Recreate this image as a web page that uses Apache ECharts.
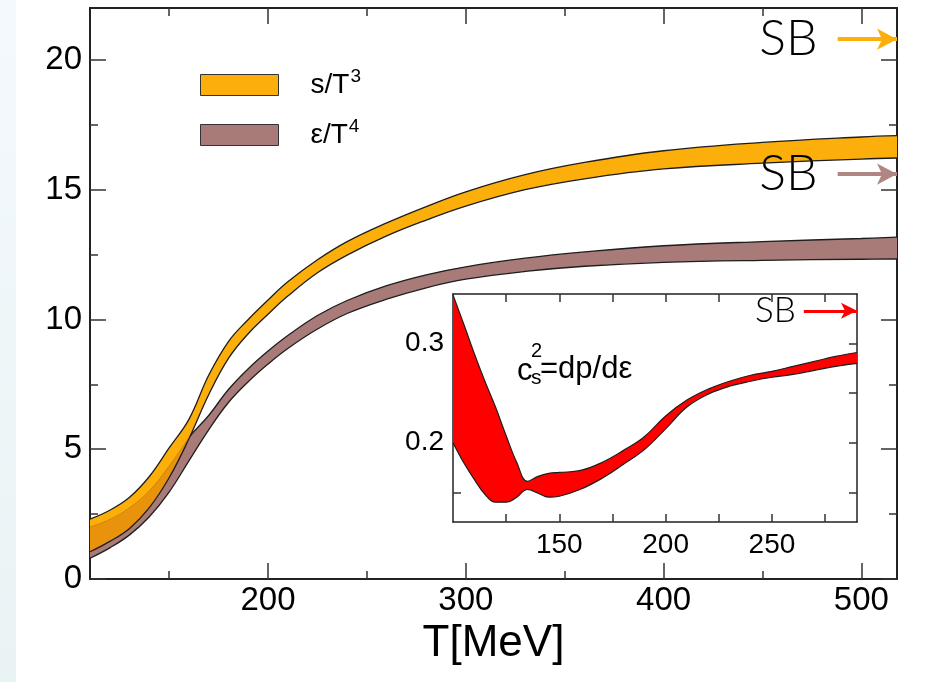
<!DOCTYPE html>
<html>
<head>
<meta charset="utf-8">
<script src="https://cdn.jsdelivr.net/npm/echarts@6/dist/echarts.min.js"></script>
<style>
  html, body { margin: 0; padding: 0; background: #fff; }
  #chart { width: 930px; height: 682px; }
</style>
</head>
<body>
<div id="chart"></div>
<script>
// main panel: s/T^3 and e/T^4 bands against T [MeV]
const temps  = [110, 120, 130, 140, 150, 160, 170, 180, 190, 200, 210, 225, 240, 260, 280, 300, 330, 360, 400, 450, 500, 518];
const sUpper = [2.31, 2.65, 3.15, 3.95, 5.05, 6.15, 7.85, 9.15, 10.0, 10.75, 11.45, 12.3, 13.0, 13.72, 14.35, 14.92, 15.58, 16.05, 16.5, 16.82, 17.03, 17.08];
const sLower = [1.05, 1.45, 1.95, 2.75, 3.9, 5.4, 7.1, 8.5, 9.45, 10.2, 10.9, 11.8, 12.48, 13.22, 13.83, 14.37, 15.0, 15.42, 15.8, 16.02, 16.18, 16.22];
const eUpper = [2.0, 2.3, 2.75, 3.4, 4.35, 5.45, 6.3, 7.3, 8.1, 8.78, 9.38, 10.15, 10.73, 11.3, 11.72, 12.03, 12.36, 12.6, 12.84, 13.0, 13.12, 13.17];
const eLower = [0.8, 1.2, 1.7, 2.4, 3.35, 4.55, 5.75, 6.8, 7.6, 8.28, 8.88, 9.63, 10.23, 10.78, 11.22, 11.55, 11.85, 12.05, 12.2, 12.28, 12.32, 12.33];

// inset: c_s^2 band
const csTemps = [100, 105, 110, 115, 120, 125, 130, 135, 140, 145, 150, 160, 170, 180, 190, 200, 210, 220, 230, 240, 250, 260, 270, 280, 290];
const csUpper = [0.349, 0.32, 0.29, 0.262, 0.236, 0.207, 0.18, 0.161, 0.166, 0.169, 0.17, 0.172, 0.18, 0.192, 0.206, 0.227, 0.243, 0.254, 0.262, 0.268, 0.272, 0.277, 0.282, 0.287, 0.291];
const csLower = [0.2, 0.18, 0.163, 0.148, 0.14, 0.14, 0.145, 0.153, 0.149, 0.145, 0.146, 0.153, 0.164, 0.178, 0.193, 0.214, 0.236, 0.249, 0.257, 0.262, 0.266, 0.269, 0.273, 0.277, 0.28];

// Stefan-Boltzmann limits
const sbEntropy = 20.8;
const sbEnergy = 15.6;
const sbSound = 0.333;

// ticks
const xMajor = [200, 300, 400, 500];
const xMinor = [150, 250, 350, 450];
const yMajor = [0, 5, 10, 15, 20];
const yMinor = [2.5, 7.5, 12.5, 17.5];
const inXTicks = [125, 150, 175, 200, 225, 250, 275];
const inXLabels = [150, 200, 250];
const inYTicks = [0.15, 0.2, 0.25, 0.3];
const inYLabels = [0.2, 0.3];

const ORANGE = '#fcaf0a', BROWN = '#a87a78', DARK_OR = '#e9920c', RED = '#ff0000';
const EDGE = '#1e1e1e';
const FONT = '"Liberation Sans", Arial, Helvetica, sans-serif';

const xRange = [110, 518], yRange = [0, 22];
const inXRange = [100, 290], inYRange = [0.12, 0.35];

// rows are [value, T] so that the stack runs along y (encode below maps them)
function rows(xs, ys) { return xs.map((x, i) => [ys[i], x]); }
function diffRows(xs, hi, lo) { return xs.map((x, i) => [hi[i] - lo[i], x]); }
const ENC = { x: 1, y: 0 };

// overlap of the two bands at low T (s band over e band)
const ovIdx = temps.map((t, i) => i).filter(i => sLower[i] < eUpper[i]);
const ovT = ovIdx.map(i => temps[i]);
const ovLow = ovIdx.map(i => sLower[i]);
const ovHigh = ovIdx.map(i => eUpper[i]);

function axis(o) {
  const a = {
    type: 'value', splitLine: { show: false },
    axisLine: { show: true, onZero: false, lineStyle: { color: '#222', width: 2 } },
    axisTick: { show: true, inside: true, length: o.tickLen, customValues: o.ticks, lineStyle: { color: '#333', width: 1.5 } },
    axisLabel: { show: false }
  };
  delete o.tickLen; delete o.ticks;
  return Object.assign(a, o);
}

const chart = echarts.init(document.getElementById('chart'), null, { renderer: 'canvas' });

const SMOOTH = 0.4;

function band(name, xs, lo, hi, color, stack, xi, z, lw) {
  return [
    { name: name + '_lo', type: 'line', stack: stack, xAxisIndex: xi, yAxisIndex: xi, data: rows(xs, lo), encode: ENC,
      symbol: 'none', smooth: SMOOTH, z: z + 1, lineStyle: { color: EDGE, width: lw } },
    { name: name, type: 'line', stack: stack, xAxisIndex: xi, yAxisIndex: xi, data: diffRows(xs, hi, lo), encode: ENC,
      symbol: 'none', smooth: SMOOTH, z: z, itemStyle: { color: color },
      lineStyle: { color: EDGE, width: lw }, areaStyle: { color: color, opacity: 1 } }
  ];
}

const arrowLabel = (size, dist) => ({ show: true, position: 'start', formatter: 'SB', fontSize: size,
  fontFamily: 'Lato, "Open Sans", sans-serif', fontWeight: 300, color: '#000', distance: dist });

const option = {
  animation: false,
  grid: [
    { left: 90, top: 8, width: 807, height: 571 },
    { left: 453, top: 294, width: 404, height: 228, show: true, backgroundColor: '#fff', borderWidth: 0 }
  ],
  legend: {
    orient: 'vertical', left: 200, top: 67, padding: 0, itemWidth: 78, itemHeight: 21, itemGap: 14, icon: 'rect',
    selectedMode: false, data: ['s/T3', 'e/T4'], z: 20,
    itemStyle: { borderColor: '#333', borderWidth: 1 },
    formatter: n => n === 's/T3' ? 's/T{sup|3}' : 'ε/T{sup|4}',
    textStyle: { fontFamily: FONT, fontSize: 28, color: '#000', padding: [0, 0, 0, 27], lineHeight: 36,
      rich: { sup: { fontSize: 19, fontFamily: FONT, verticalAlign: 'top', lineHeight: 36, padding: [0, 0, 0, 1] } } }
  },
  xAxis: [
    axis({ gridIndex: 0, min: xRange[0], max: xRange[1], position: 'bottom', ticks: xMajor, tickLen: 16,
      axisLabel: { show: true, customValues: xMajor, fontSize: 33, fontFamily: FONT, color: '#000', margin: 5 },
      name: 'T[MeV]', nameLocation: 'middle', nameGap: 36, nameTextStyle: { fontSize: 44, fontFamily: FONT, color: '#000' } }),
    axis({ gridIndex: 0, min: xRange[0], max: xRange[1], position: 'bottom', ticks: xMinor, tickLen: 8 }),
    axis({ gridIndex: 0, min: xRange[0], max: xRange[1], position: 'top', ticks: xMajor, tickLen: 16 }),
    axis({ gridIndex: 0, min: xRange[0], max: xRange[1], position: 'top', ticks: xMinor, tickLen: 8 }),
    axis({ gridIndex: 1, min: inXRange[0], max: inXRange[1], position: 'bottom', ticks: inXTicks, tickLen: 8,
      axisLine: { show: true, onZero: false, lineStyle: { color: '#222', width: 1.5 } },
      axisLabel: { show: true, customValues: inXLabels, fontSize: 28, fontFamily: FONT, color: '#000', margin: 9 } }),
    axis({ gridIndex: 1, min: inXRange[0], max: inXRange[1], position: 'top', ticks: inXTicks, tickLen: 8,
      axisLine: { show: true, onZero: false, lineStyle: { color: '#222', width: 1.5 } } })
  ],
  yAxis: [
    axis({ gridIndex: 0, min: yRange[0], max: yRange[1], position: 'left', ticks: yMajor, tickLen: 16,
      axisLabel: { show: true, customValues: yMajor, fontSize: 33, fontFamily: FONT, color: '#000', margin: 8 } }),
    axis({ gridIndex: 0, min: yRange[0], max: yRange[1], position: 'left', ticks: yMinor, tickLen: 8 }),
    axis({ gridIndex: 0, min: yRange[0], max: yRange[1], position: 'right', ticks: yMajor, tickLen: 16 }),
    axis({ gridIndex: 0, min: yRange[0], max: yRange[1], position: 'right', ticks: yMinor, tickLen: 8 }),
    axis({ gridIndex: 1, min: inYRange[0], max: inYRange[1], position: 'left', ticks: inYTicks, tickLen: 8,
      axisLine: { show: true, onZero: false, lineStyle: { color: '#222', width: 1.5 } },
      axisLabel: { show: true, customValues: inYLabels, fontSize: 28, fontFamily: FONT, color: '#000', margin: 9 } }),
    axis({ gridIndex: 1, min: inYRange[0], max: inYRange[1], position: 'right', ticks: inYTicks, tickLen: 8,
      axisLine: { show: true, onZero: false, lineStyle: { color: '#222', width: 1.5 } } })
  ],
  series: [
    ...band('e/T4', temps, eLower, eUpper, BROWN, 'E', 0, 2, 1.3),
    ...band('s/T3', temps, sLower, sUpper, ORANGE, 'S', 0, 4, 1.3),
    { name: 'ov_lo', type: 'line', stack: 'O', data: rows(ovT, ovLow), encode: ENC, symbol: 'none',
      smooth: SMOOTH, z: 5, lineStyle: { opacity: 0 } },
    { name: 'ov', type: 'line', stack: 'O', data: diffRows(ovT, ovHigh, ovLow), encode: ENC, symbol: 'none',
      smooth: SMOOTH, z: 5,
      lineStyle: { color: 'rgba(150,90,0,0.35)', width: 1 }, areaStyle: { color: DARK_OR, opacity: 1 } },
    ...band('cs2', csTemps, csLower, csUpper, RED, 'C', 4, 4, 1.2),
    { name: 'sb', type: 'line', data: [], xAxisIndex: 0, yAxisIndex: 0, z: 10,
      markLine: { silent: true, animation: false, symbol: ['none', 'arrow'], symbolSize: [16, 20],
        label: arrowLabel(50, 20),
        data: [
          [{ coord: [488, sbEntropy], lineStyle: { color: ORANGE, width: 4, type: 'solid' } }, { coord: [xRange[1], sbEntropy] }],
          [{ coord: [488, sbEnergy], lineStyle: { color: '#b08682', width: 4, type: 'solid' } }, { coord: [xRange[1], sbEnergy] }]
        ] } },
    { name: 'sbIn', type: 'line', data: [], xAxisIndex: 4, yAxisIndex: 4, z: 10,
      markLine: { silent: true, animation: false, symbol: ['none', 'arrow'], symbolSize: [12, 16],
        label: arrowLabel(35, 8),
        data: [
          [{ coord: [265, sbSound], lineStyle: { color: RED, width: 3, type: 'solid' } }, { coord: [inXRange[1], sbSound] }]
        ] } }
  ],
  graphic: [
    { type: 'rect', left: 0, top: 0, shape: { width: 16, height: 682 }, z: -1,
      style: { fill: new echarts.graphic.LinearGradient(0, 0, 0, 1, [{ offset: 0, color: '#f4f9fd' }, { offset: 1, color: '#e9f3f4' }]) } },
    { type: 'group', z: 100, children: [
      { type: 'text', x: 517, y: 371, style: { text: 'c', fontSize: 31, fontFamily: FONT, fill: '#000', verticalAlign: 'middle' } },
      { type: 'text', x: 531, y: 351, style: { text: '2', fontSize: 20, fontFamily: FONT, fill: '#000', verticalAlign: 'middle' } },
      { type: 'text', x: 531, y: 378, style: { text: 's', fontSize: 21, fontFamily: FONT, fill: '#000', verticalAlign: 'middle' } },
      { type: 'text', x: 540, y: 369, style: { text: '=dp/dε', fontSize: 31, fontFamily: FONT, fill: '#000', verticalAlign: 'middle' } }
    ] }
  ]
};

chart.setOption(option);
</script>
</body>
</html>
